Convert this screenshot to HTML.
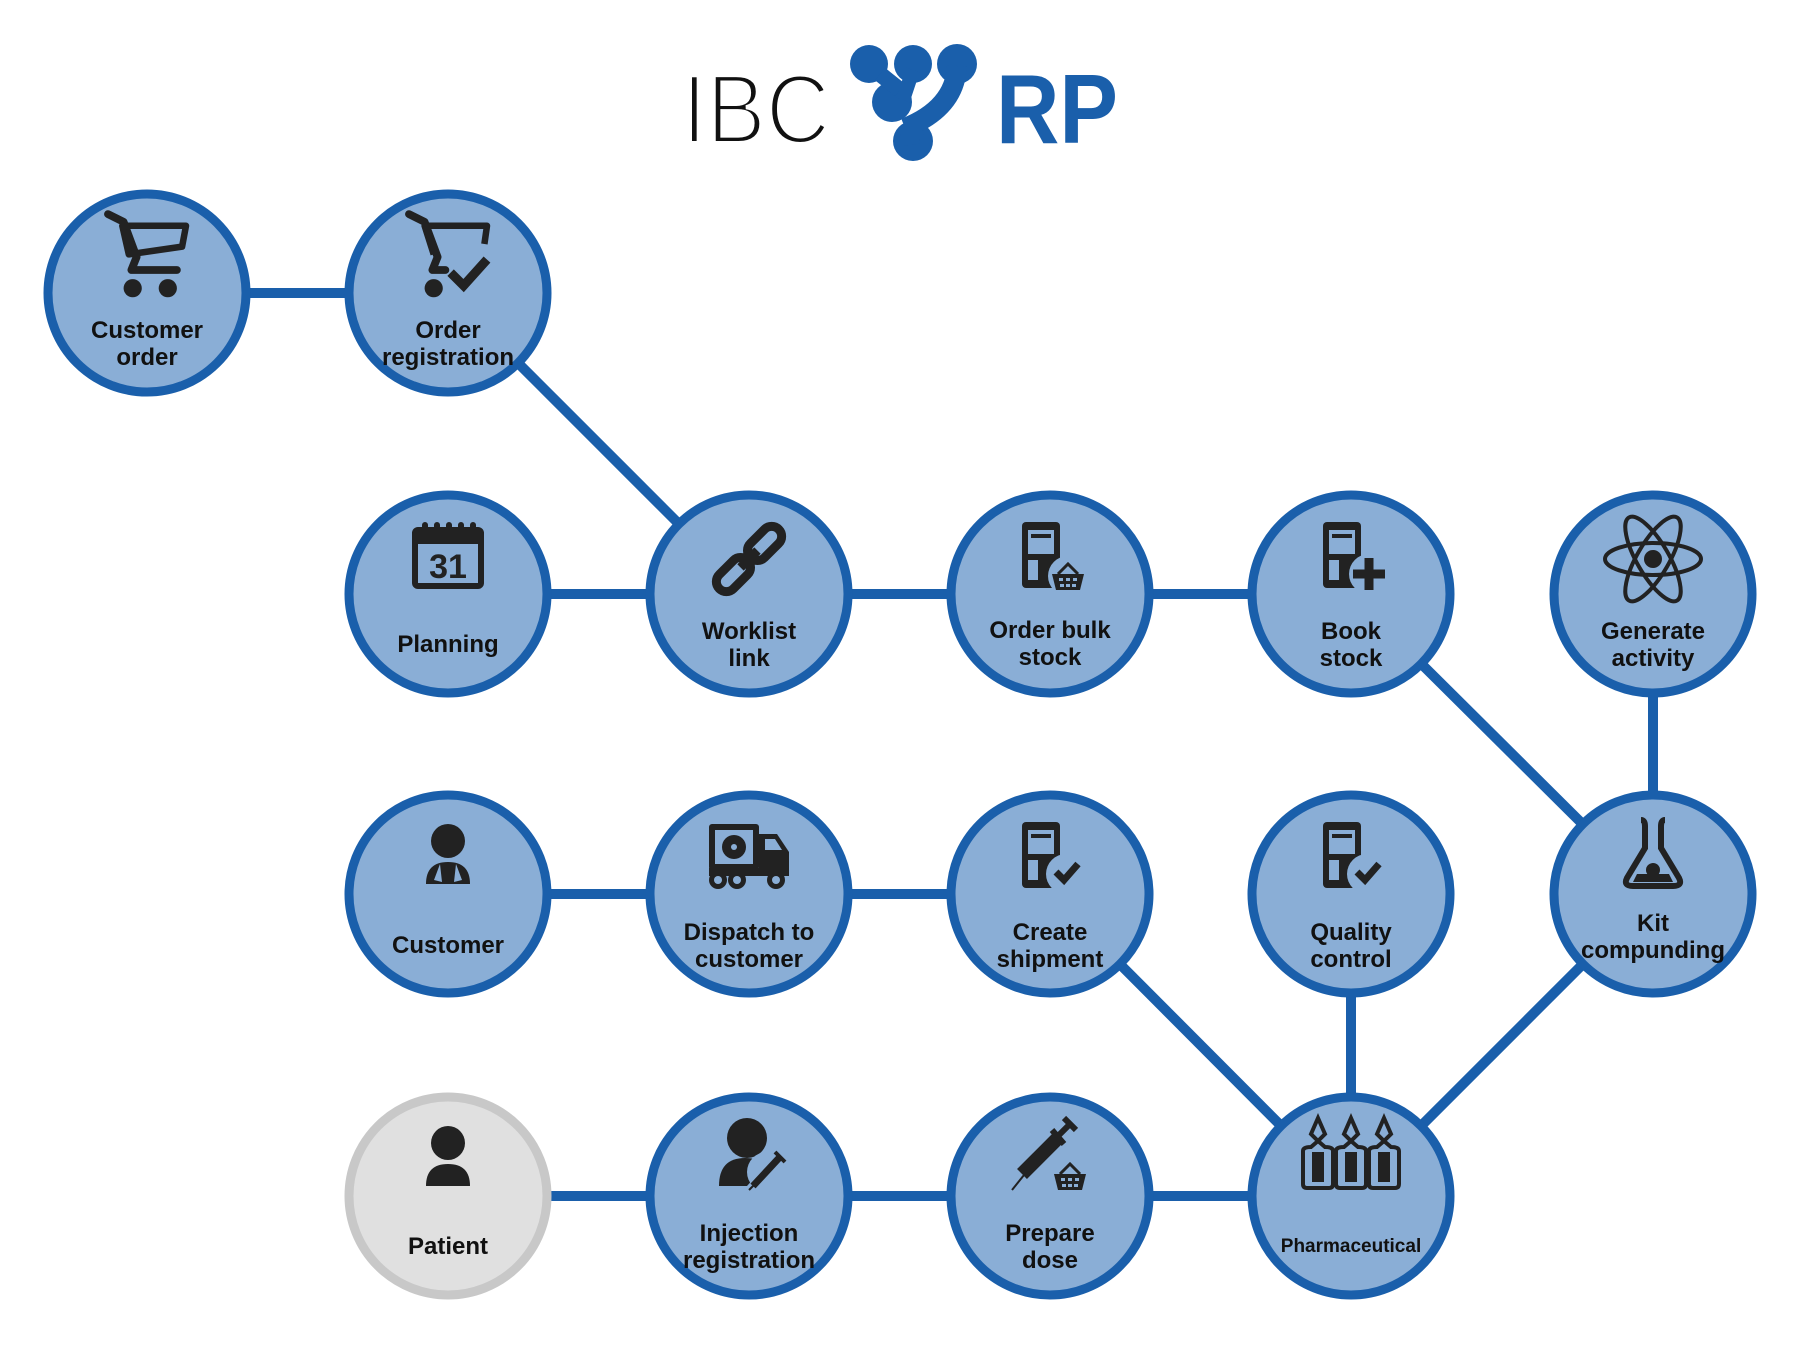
<!DOCTYPE html>
<html><head><meta charset="utf-8"><style>
html,body{margin:0;padding:0;background:#fff;}
svg{display:block;}
text{font-family:"Liberation Sans",sans-serif;font-weight:bold;fill:#111;text-anchor:middle;}
</style></head><body>
<svg width="1800" height="1350" viewBox="0 0 1800 1350" xmlns="http://www.w3.org/2000/svg">
<defs>
<g id="cart">
 <path d="M-30,-69 L-18,-63 L-8,-36 L-12,-26 L23,-26" fill="none" stroke="#222" stroke-width="6" stroke-linecap="round" stroke-linejoin="round"/>
 <path d="M-19,-60 L30,-60 L27,-44 L-14,-38 Z" fill="none" stroke="#222" stroke-width="5" stroke-linejoin="round"/>
 <circle cx="-11" cy="-12" r="7" fill="#222"/><circle cx="16" cy="-12" r="7" fill="#222"/>
</g>
<g id="device">
 <rect x="-26" y="-72" width="38" height="66" rx="4" fill="#222"/>
 <rect x="-20" y="-64" width="26" height="24" fill="#8aaed6"/>
 <rect x="-20" y="-34" width="10" height="20" fill="#8aaed6"/>
 <rect x="-17" y="-60" width="20" height="4" fill="#222"/>
</g>
<g id="basket">
 <path d="M-10,-22 L0,-32 L10,-22" fill="none" stroke="#222" stroke-width="3"/>
 <path d="M-16,-22 L16,-22 L12,-6 L-12,-6 Z" fill="#222"/>
 <g fill="#8aaed6"><rect x="-9" y="-18" width="4" height="3"/><rect x="-2" y="-18" width="4" height="3"/><rect x="5" y="-18" width="4" height="3"/><rect x="-8" y="-12" width="4" height="3"/><rect x="-2" y="-12" width="4" height="3"/><rect x="4" y="-12" width="4" height="3"/></g>
</g>
<g id="person">
 <circle cx="0" cy="-53" r="17" fill="#222"/>
 <path d="M-22,-10 Q-22,-32 0,-32 Q22,-32 22,-10 Z" fill="#222"/>
</g>
</defs>

<!-- Logo -->
<text x="756" y="143" style="font-weight:normal;font-size:98px;" stroke="#fff" stroke-width="4" textLength="148" lengthAdjust="spacingAndGlyphs">IBC</text>
<g fill="#1a5fab">
 <circle cx="869" cy="64" r="19"/><circle cx="913" cy="64" r="19"/><circle cx="957" cy="64" r="20"/>
 <circle cx="892" cy="102" r="20"/><circle cx="913" cy="141" r="20"/>
 <path d="M880,74 L900,90" stroke="#1a5fab" stroke-width="16" fill="none"/>
 <path d="M913,70 L903,100" stroke="#1a5fab" stroke-width="14" fill="none"/>
 <path d="M957,66 Q955,108 905,128" stroke="#1a5fab" stroke-width="20" fill="none"/>
 <path d="M920,125 Q908,130 910,145" stroke="#1a5fab" stroke-width="20" fill="none"/>
</g>
<text x="1057" y="143" style="font-size:98px;fill:#1a5fab;" textLength="122" lengthAdjust="spacingAndGlyphs">RP</text>

<!-- Connectors -->
<g stroke="#1a5fab" stroke-width="10" fill="none">
 <line x1="147" y1="293" x2="448" y2="293"/>
 <line x1="448" y1="293" x2="749" y2="594"/>
 <line x1="448" y1="594" x2="1351" y2="594"/>
 <line x1="1351" y1="594" x2="1653" y2="894"/>
 <line x1="1653" y1="594" x2="1653" y2="894"/>
 <line x1="448" y1="894" x2="1050" y2="894"/>
 <line x1="1050" y1="894" x2="1351" y2="1196"/>
 <line x1="1351" y1="894" x2="1351" y2="1196"/>
 <line x1="1653" y1="894" x2="1351" y2="1196"/>
 <line x1="448" y1="1196" x2="1351" y2="1196"/>
</g>

<!-- Nodes -->
<g stroke="#1a5fab" stroke-width="9" fill="#8aaed6">
 <circle cx="147" cy="293" r="99"/><circle cx="448" cy="293" r="99"/>
 <circle cx="448" cy="594" r="99"/><circle cx="749" cy="594" r="99"/><circle cx="1050" cy="594" r="99"/><circle cx="1351" cy="594" r="99"/><circle cx="1653" cy="594" r="99"/>
 <circle cx="448" cy="894" r="99"/><circle cx="749" cy="894" r="99"/><circle cx="1050" cy="894" r="99"/><circle cx="1351" cy="894" r="99"/><circle cx="1653" cy="894" r="99"/>
 <circle cx="749" cy="1196" r="99"/><circle cx="1050" cy="1196" r="99"/><circle cx="1351" cy="1196" r="99"/>
</g>
<circle cx="448" cy="1196" r="99" fill="#e0e0e0" stroke="#c8c8c8" stroke-width="9"/>

<!-- Icons -->
<use href="#cart" transform="translate(147,293) translate(0,-36) scale(1.3) translate(0,36)"/>
<g transform="translate(448,293) translate(0,-36) scale(1.3) translate(0,36)">
 <path d="M-30,-69 L-18,-63 L-8,-36 L-12,-26 L-2,-26" fill="none" stroke="#222" stroke-width="6" stroke-linecap="round" stroke-linejoin="round"/>
 <path d="M-11,-38 L-18,-60 L30,-60 L28,-46" fill="none" stroke="#222" stroke-width="5" stroke-linejoin="round"/>
 <circle cx="-11" cy="-12" r="7" fill="#222"/>
 <path d="M2,-24 L12,-14 L30,-34" fill="none" stroke="#222" stroke-width="7"/>
</g>
<g transform="translate(448,594)">
 <rect x="-33" y="-64" width="66" height="56" rx="3" fill="none" stroke="#222" stroke-width="6"/>
 <rect x="-33" y="-64" width="66" height="14" fill="#222"/>
 <g fill="#222"><rect x="-26" y="-72" width="6" height="12" rx="3"/><rect x="-14" y="-72" width="6" height="12" rx="3"/><rect x="-2" y="-72" width="6" height="12" rx="3"/><rect x="10" y="-72" width="6" height="12" rx="3"/><rect x="22" y="-72" width="6" height="12" rx="3"/></g>
 <text x="0" y="-16" style="font-size:34px;fill:#222;">31</text>
</g>
<g transform="translate(749,594) rotate(-45 0 -35)" fill="none" stroke="#222" stroke-width="9">
 <rect x="-42" y="-45" width="40" height="20" rx="10"/>
 <rect x="2" y="-45" width="40" height="20" rx="10"/>
 <line x1="-12" y1="-35" x2="12" y2="-35"/>
</g>
<g transform="translate(1050,594)"><use href="#device" transform="translate(-2,0)"/><circle cx="18" cy="-18" r="20" fill="#8aaed6"/><use href="#basket" transform="translate(18,2)"/></g>
<g transform="translate(1351,594)"><use href="#device" transform="translate(-2,0)"/><circle cx="18" cy="-20" r="20" fill="#8aaed6"/><path d="M18,-36 V-4 M2,-20 H34" stroke="#222" stroke-width="9"/></g>
<g transform="translate(1653,594)" fill="none" stroke="#222" stroke-width="4">
 <ellipse cx="0" cy="-35" rx="48" ry="16"/>
 <ellipse cx="0" cy="-35" rx="48" ry="16" transform="rotate(60 0 -35)"/>
 <ellipse cx="0" cy="-35" rx="48" ry="16" transform="rotate(-60 0 -35)"/>
 <circle cx="0" cy="-35" r="9" fill="#222" stroke="none"/>
</g>
<g transform="translate(448,894)">
 <use href="#person"/>
 <path d="M-8,-30 L-14,-14 L-6,-12 Z M8,-30 L14,-14 L6,-12 Z" fill="#8aaed6"/>
</g>
<g transform="translate(749,894)">
 <rect x="-40" y="-70" width="50" height="46" rx="3" fill="#222"/>
 <rect x="-34" y="-64" width="38" height="34" fill="#8aaed6"/>
 <circle cx="-15" cy="-47" r="12" fill="#222"/><circle cx="-15" cy="-47" r="3" fill="#8aaed6"/>
 <path d="M10,-60 L28,-60 L40,-42 L40,-20 L10,-20 Z" fill="#222"/>
 <path d="M16,-55 L26,-55 L33,-44 L16,-44 Z" fill="#8aaed6"/>
 <rect x="-40" y="-26" width="80" height="8" fill="#222"/>
 <g fill="#222"><circle cx="-31" cy="-14" r="9"/><circle cx="-12" cy="-14" r="9"/><circle cx="27" cy="-14" r="9"/></g>
 <g fill="#8aaed6"><circle cx="-31" cy="-14" r="4"/><circle cx="-12" cy="-14" r="4"/><circle cx="27" cy="-14" r="4"/></g>
</g>
<g transform="translate(1050,894)"><use href="#device" transform="translate(-2,0)"/><circle cx="16" cy="-20" r="20" fill="#8aaed6"/><path d="M6,-22 L14,-14 L28,-30" fill="none" stroke="#222" stroke-width="7"/></g>
<g transform="translate(1351,894)"><use href="#device" transform="translate(-2,0)"/><circle cx="16" cy="-20" r="20" fill="#8aaed6"/><path d="M6,-22 L14,-14 L28,-30" fill="none" stroke="#222" stroke-width="7"/></g>
<g transform="translate(1653,894)" fill="none" stroke="#222" stroke-width="6">
 <path d="M-12,-74 Q-8,-74 -8,-68 L-8,-46 L-26,-16 Q-30,-8 -20,-8 L20,-8 Q30,-8 26,-16 L8,-46 L8,-68 Q8,-74 12,-74"/>
 <circle cx="0" cy="-24" r="7" fill="#222" stroke="none"/><path d="M-16,-20 L16,-20 L20,-12 L-20,-12 Z" fill="#222" stroke="none"/>
</g>
<g transform="translate(448,1196)"><use href="#person" fill="#222"/></g>
<g transform="translate(749,1196)">
 <circle cx="-2" cy="-58" r="20" fill="#222"/>
 <path d="M-30,-10 Q-30,-38 -4,-38 Q12,-38 16,-30 L-2,-10 Z" fill="#222"/>
 <circle cx="18" cy="-24" r="20" fill="#8aaed6"/>
 <path d="M4,-10 L30,-38" stroke="#222" stroke-width="7"/><path d="M26,-44 L36,-34" stroke="#222" stroke-width="4"/><path d="M0,-6 L6,-12" stroke="#222" stroke-width="2"/>
</g>
<g transform="translate(1050,1196)">
 <path d="M-38,-6 L-22,-26" stroke="#222" stroke-width="2"/>
 <path d="M-28,-22 L8,-58" stroke="#222" stroke-width="14"/>
 <path d="M2,-66 L14,-52 M8,-60 L20,-72 M14,-78 L26,-66" stroke="#222" stroke-width="6"/>
 <circle cx="20" cy="-26" r="20" fill="#8aaed6"/>
 <use href="#basket" transform="translate(20,0)"/>
</g>
<g transform="translate(1351,1196)" fill="none" stroke="#222" stroke-width="4">
 <g id="amp"><path d="M-33,-78 L-26,-62 L-33,-55 L-26,-49 Q-18,-49 -18,-45 L-18,-12 Q-18,-8 -22,-8 L-44,-8 Q-48,-8 -48,-12 L-48,-45 Q-48,-49 -40,-49 L-33,-55 L-40,-62 Z"/><rect x="-39" y="-44" width="12" height="30" fill="#222" stroke="none"/></g>
 <use href="#amp" transform="translate(33,0)"/><use href="#amp" transform="translate(66,0)"/>
</g>

<!-- Labels -->
<g style="font-size:24px;">
 <text x="147" y="338">Customer</text><text x="147" y="365">order</text>
 <text x="448" y="338">Order</text><text x="448" y="365">registration</text>
 <text x="448" y="652">Planning</text>
 <text x="749" y="639">Worklist</text><text x="749" y="666">link</text>
 <text x="1050" y="638">Order bulk</text><text x="1050" y="665">stock</text>
 <text x="1351" y="639">Book</text><text x="1351" y="666">stock</text>
 <text x="1653" y="639">Generate</text><text x="1653" y="666">activity</text>
 <text x="448" y="953">Customer</text>
 <text x="749" y="940">Dispatch to</text><text x="749" y="967">customer</text>
 <text x="1050" y="940">Create</text><text x="1050" y="967">shipment</text>
 <text x="1351" y="940">Quality</text><text x="1351" y="967">control</text>
 <text x="1653" y="931">Kit</text><text x="1653" y="958">compunding</text>
 <text x="448" y="1254">Patient</text>
 <text x="749" y="1241">Injection</text><text x="749" y="1268">registration</text>
 <text x="1050" y="1241">Prepare</text><text x="1050" y="1268">dose</text>
 <text x="1351" y="1252" style="font-size:19px;">Pharmaceutical</text>
</g>
</svg>
</body></html>
